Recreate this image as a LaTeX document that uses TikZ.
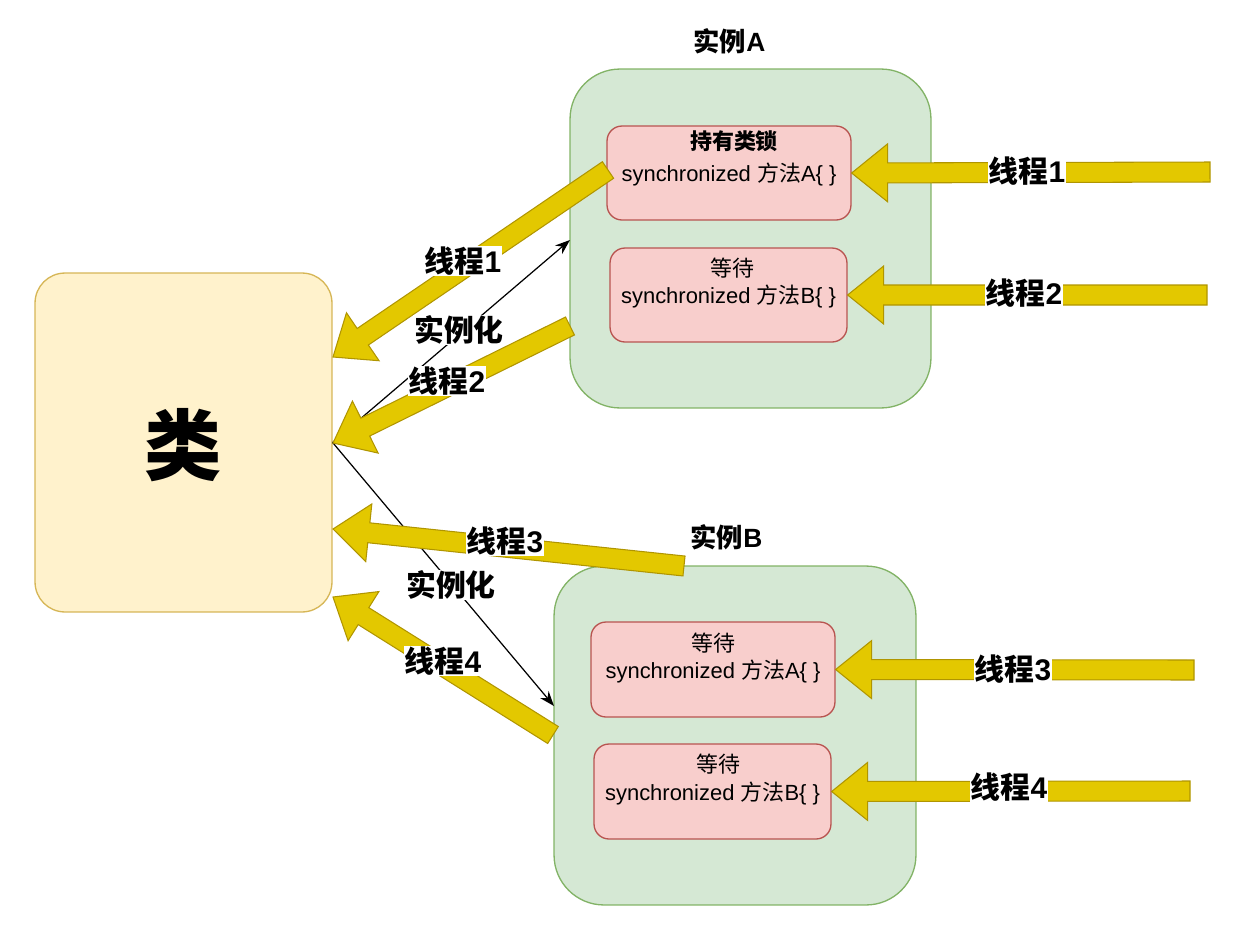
\documentclass[tikz,border=0pt]{standalone}
\usepackage{fontspec}
\setmainfont{Liberation Sans}
\newfontfamily\cjk{Noto Sans CJK SC}
\usetikzlibrary{calc,arrows.meta}
\definecolor{clsfill}{HTML}{FFF2CC}
\definecolor{clsdraw}{HTML}{D6B656}
\definecolor{grnfill}{HTML}{D5E8D4}
\definecolor{grndraw}{HTML}{82B366}
\definecolor{redfill}{HTML}{F8CECC}
\definecolor{reddraw}{HTML}{B85450}
\definecolor{yelfill}{HTML}{E3C800}
\definecolor{yeldraw}{HTML}{B09500}
\tikzset{
  clsbox/.style={draw=clsdraw, fill=clsfill, line width=0.75pt, rounded corners=0.6cm, minimum width=5.94cm, minimum height=6.78cm},
  instbox/.style={draw=grndraw, fill=grnfill, line width=0.75pt, rounded corners=1cm, minimum width=7.22cm, minimum height=6.78cm},
  methbox/.style={draw=reddraw, fill=redfill, line width=0.75pt, rounded corners=0.3cm, minimum height=1.88cm},
  fatarr/.style={draw=yeldraw, fill=yelfill, line width=0.6pt, line join=miter},
  thinarr/.style={black, line width=0.7pt, -{Stealth[length=0.3cm, width=0.22cm]}},
  thrlabel/.style={fill=white, inner sep=0.5pt, font=\fontsize{17}{20}\selectfont\bfseries},
  methtext/.style={inner sep=0pt, font=\fontsize{12.5}{15}\selectfont},
  titletext/.style={inner sep=0pt, font=\fontsize{15}{18}\selectfont\bfseries},
}
% #1 = tail coordinate, #2 = tip coordinate
\newcommand\fatarrow[2]{%
  \pgfmathanglebetweenpoints{\pgfpointanchor{#2}{center}}{\pgfpointanchor{#1}{center}}%
  \let\faang\pgfmathresult
  \pgfpointdiff{\pgfpointanchor{#2}{center}}{\pgfpointanchor{#1}{center}}%
  \pgfgetlastxy{\fadx}{\fady}%
  \pgfmathsetmacro\falen{veclen(\fadx,\fady)}%
  \begin{scope}[shift={(#2)}, rotate=\faang]
    \draw[fatarr] (0,0) -- (0.72cm,0.58cm) -- (0.72cm,0.2cm) -- (\falen pt,0.2cm)
      -- (\falen pt,-0.2cm) -- (0.72cm,-0.2cm) -- (0.72cm,-0.58cm) -- cycle;
  \end{scope}
}
\begin{document}
\begin{tikzpicture}[x=0.02cm, y=-0.02cm]
\useasboundingbox (0,0) rectangle (1234,930);
% class
\node[clsbox] (cls) at (183.5,442.5) {};
\node[inner sep=0pt, font=\fontsize{44}{50}\selectfont\bfseries\cjk] (clstext) at (183.5,445) {类};
% instance A
\node[instbox] (instA) at (750.5,238.5) {};
\node[titletext] (instAlbl) at (729.5,41) {{\cjk 实例}A};
\node[methbox, minimum width=4.88cm] (a1) at (729,173) {};
\node[methtext, font=\fontsize{12.5}{15}\selectfont\bfseries\cjk] (a1top) at (734,141) {持有类锁};
\node[methtext] (a1txt) at (729,174) {synchronized {\cjk 方法}A\{ \}};
\node[methbox, minimum width=4.74cm] (a2) at (728.5,295) {};
\node[methtext, font=\fontsize{12.5}{15}\selectfont\cjk] (a2top) at (732,268) {等待};
\node[methtext] (a2txt) at (728.5,296) {synchronized {\cjk 方法}B\{ \}};
% instance B
\node[instbox, minimum width=7.24cm] (instB) at (735,735.5) {};
\node[titletext] (instBlbl) at (726.5,537) {{\cjk 实例}B};
\node[methbox, minimum width=4.88cm, minimum height=1.9cm] (b1) at (713,669.5) {};
\node[methtext, font=\fontsize{12.5}{15}\selectfont\cjk] (b1top) at (713,643) {等待};
\node[methtext] (b1txt) at (713,671) {synchronized {\cjk 方法}A\{ \}};
\node[methbox, minimum width=4.74cm, minimum height=1.9cm] (b2) at (712.5,791.5) {};
\node[methtext, font=\fontsize{12.5}{15}\selectfont\cjk] (b2top) at (718,764) {等待};
\node[methtext] (b2txt) at (712.5,793) {synchronized {\cjk 方法}B\{ \}};
% thin instantiation arrows
\coordinate (ainA) at (570,240);
\coordinate (ainB) at (554,706);
\draw[thinarr] (cls.east) -- (ainA);
\draw[thinarr] (cls.east) -- (ainB);
% fat arrow coordinates
\coordinate (r1s) at (1210,172);
\coordinate (r1t) at (a1.east);
\coordinate (r2s) at (1207,295);
\coordinate (r2t) at (a2.east);
\coordinate (r3s) at (1194,670);
\coordinate (r3t) at (b1.east);
\coordinate (r4s) at (1190,791);
\coordinate (r4t) at (b2.east);
\coordinate (d1s) at (608,170);
\coordinate (d1t) at (333,357);
\coordinate (d2s) at (570,326);
\coordinate (d2t) at (333,443);
\coordinate (d3s) at (684,566);
\coordinate (d3t) at (333,529);
\coordinate (d4s) at (553,735);
\coordinate (d4t) at (333,597);
\fatarrow{r1s}{r1t}
\fatarrow{r2s}{r2t}
\fatarrow{r3s}{r3t}
\fatarrow{r4s}{r4t}
\fatarrow{d1s}{d1t}
\fatarrow{d2s}{d2t}
\fatarrow{d3s}{d3t}
\fatarrow{d4s}{d4t}
% labels
\node[thrlabel] (lr1) at (1027,171) {{\cjk 线程}1};
\node[thrlabel] (lr2) at (1024,293) {{\cjk 线程}2};
\node[thrlabel] (lr3) at (1013,669) {{\cjk 线程}3};
\node[thrlabel] (lr4) at (1009,787) {{\cjk 线程}4};
\node[thrlabel] (ld1) at (463,261) {{\cjk 线程}1};
\node[thrlabel, font=\fontsize{17}{20}\selectfont\bfseries\cjk] (li1) at (459,330) {实例化};
\node[thrlabel] (ld2) at (447,381) {{\cjk 线程}2};
\node[thrlabel] (ld3) at (505,541) {{\cjk 线程}3};
\node[thrlabel, font=\fontsize{17}{20}\selectfont\bfseries\cjk] (li2) at (451,585) {实例化};
\node[thrlabel] (ld4) at (443,661) {{\cjk 线程}4};
\end{tikzpicture}
\end{document}
